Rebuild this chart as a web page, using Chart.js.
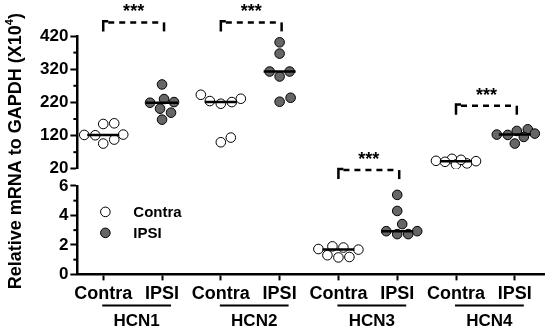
<!DOCTYPE html>
<html><head><meta charset="utf-8">
<script src="https://cdn.jsdelivr.net/npm/chart.js@4"></script>
<style>html,body{margin:0;padding:0;background:#fff}#wrap{width:550px;height:331px;position:relative}</style>
</head><body><div id="wrap"><canvas id="c" width="550" height="331"></canvas></div>
<script>
const groups = ['HCN1', 'HCN2', 'HCN3', 'HCN4'];
const conditions = ['Contra', 'IPSI'];
const hcn1Contra = [108, 122, 121, 123, 157, 155, 96];
const hcn1Ipsi   = [219, 274, 230, 201, 221, 189, 168];
const hcn2Contra = [224, 243, 216, 231, 221, 100, 114];
const hcn2Ipsi   = [401, 367, 313, 298, 313, 222, 234];
const hcn3Contra = [1.82, 1.72, 1.30, 1.68, 1.90, 1.15, 1.18];
const hcn3Ipsi   = [5.39, 4.30, 3.41, 2.73, 2.93, 2.73, 2.93];
const hcn4Contra = [44, 50, 36, 43, 33, 41, 47];
const hcn4Ipsi   = [122, 139, 123, 116, 126, 134, 96];
const upperTicks = [20, 120, 220, 320, 420];
const lowerTicks = [0, 2, 4, 6];
const lowerGroups = ['HCN3'];
const significance = ['***', '***', '***', '***'];
const bracketLevels = [461, 461, 7.07, 210];
const yTitle = 'Relative mRNA to GAPDH (X10';
const yTitleSup = '4';

const series = [[hcn1Contra, hcn1Ipsi], [hcn2Contra, hcn2Ipsi], [hcn3Contra, hcn3Ipsi], [hcn4Contra, hcn4Ipsi]];
const FONT = '"Liberation Sans", Arial, sans-serif';
const axisFor = g => lowerGroups.includes(g) ? 'yBot' : 'yTop';

const datasets = [];
groups.forEach((g, gi) => conditions.forEach((c, ci) => {
  datasets.push({
    label: g + ' ' + c, group: gi, cond: ci, yAxisID: axisFor(g),
    data: series[gi][ci].map(v => ({x: gi * 2 + ci, y: v})),
    backgroundColor: ci ? '#666666' : '#ffffff', borderColor: '#000', borderWidth: 1,
    pointRadius: 4.8, pointHoverRadius: 4.8, showLine: false
  });
}));

const median = arr => { const s = [...arr].sort((a, b) => a - b); const n = s.length; return n % 2 ? s[(n - 1) / 2] : (s[n / 2 - 1] + s[n / 2]) / 2; };

const yAxisCommon = {
  type: 'linear', position: 'left', stack: 'y',
  ticks: {font: {family: FONT, weight: 'bold', size: 17}, color: '#000', padding: 2, autoSkip: false},
  grid: {display: true, drawOnChartArea: false, drawTicks: true, tickLength: 7, tickWidth: 2, tickColor: '#000'},
  border: {display: true, color: '#000', width: 2.5}
};

const extras = {
  id: 'extras',
  afterDatasetsDraw(chart) {
    const {ctx} = chart; const x = chart.scales.x;
    ctx.save();
    ctx.strokeStyle = '#000'; ctx.lineWidth = 2.5;
    chart.data.datasets.forEach(ds => {
      const ys = chart.scales[ds.yAxisID];
      const m = median(series[ds.group][ds.cond]);
      const cx = x.getPixelForValue(ds.group * 2 + ds.cond);
      const py = ys.getPixelForValue(m);
      ctx.beginPath(); ctx.moveTo(cx - 16, py); ctx.lineTo(cx + 16, py); ctx.stroke();
    });
    ctx.restore();
  },
  afterDraw(chart) {
    const {ctx, chartArea} = chart; const x = chart.scales.x;
    const yTop = chart.scales.yTop, yBot = chart.scales.yBot;
    ctx.save();
    ctx.strokeStyle = '#000'; ctx.fillStyle = '#000';
    // minor ticks
    ctx.lineWidth = 2;
    const minor = (scale, ticks) => {
      for (let i = 0; i < ticks.length - 1; i++) {
        const v = (ticks[i] + ticks[i + 1]) / 2; const py = scale.getPixelForValue(v);
        ctx.beginPath(); ctx.moveTo(scale.right - 4, py); ctx.lineTo(scale.right, py); ctx.stroke();
      }
    };
    minor(yTop, upperTicks); minor(yBot, lowerTicks);
    // brackets
    groups.forEach((g, gi) => {
      const ys = chart.scales[axisFor(g)];
      const py = ys.getPixelForValue(bracketLevels[gi]);
      const x1 = x.getPixelForValue(gi * 2), x2 = x.getPixelForValue(gi * 2 + 1) + 2;
      ctx.lineWidth = 2.5; ctx.setLineDash([6, 5]);
      ctx.beginPath(); ctx.moveTo(x1 + 5, py); ctx.lineTo(x2 - 3, py); ctx.stroke();
      ctx.setLineDash([]);
      ctx.beginPath(); ctx.moveTo(x1, py + 9); ctx.lineTo(x1, py - 1.2); ctx.lineTo(x1 + 5, py - 1.2); ctx.stroke();
      ctx.beginPath(); ctx.moveTo(x2, py); ctx.lineTo(x2, py + 9); ctx.stroke();
      ctx.font = 'bold 18px ' + FONT; ctx.textAlign = 'center'; ctx.textBaseline = 'middle';
      ctx.fillText(significance[gi], (x1 + x2) / 2, py - 10);
    });
    // group underline + labels
    groups.forEach((g, gi) => {
      const x1 = x.getPixelForValue(gi * 2) - 1, x2 = x.getPixelForValue(gi * 2 + 1) + 9;
      const uy = x.top + 31;
      ctx.lineWidth = 2; ctx.beginPath(); ctx.moveTo(x1, uy); ctx.lineTo(x2, uy); ctx.stroke();
      ctx.font = 'bold 17px ' + FONT; ctx.textAlign = 'center'; ctx.textBaseline = 'middle';
      ctx.fillText(g, (x1 + x2) / 2, uy + 16);
    });
    // legend
    conditions.forEach((c, ci) => {
      const lx = chartArea.left + 28, ly = yBot.top + 26 + ci * 21;
      ctx.beginPath(); ctx.arc(lx, ly, 4.8, 0, Math.PI * 2);
      ctx.fillStyle = ci ? '#666666' : '#ffffff'; ctx.fill();
      ctx.lineWidth = 1; ctx.strokeStyle = '#000'; ctx.stroke();
      ctx.fillStyle = '#000'; ctx.font = 'bold 15px ' + FONT; ctx.textAlign = 'left'; ctx.textBaseline = 'middle';
      ctx.fillText(c, lx + 28, ly + 1);
    });
    // y title
    const cy = (yTop.top + yBot.bottom) / 2 - 4;
    ctx.translate(16, cy); ctx.rotate(-Math.PI / 2);
    ctx.font = 'bold 18px ' + FONT; ctx.textBaseline = 'middle';
    const w1 = ctx.measureText(yTitle).width;
    ctx.font = 'bold 11px ' + FONT; const w2 = ctx.measureText(yTitleSup).width;
    ctx.font = 'bold 18px ' + FONT; const w3 = ctx.measureText(')').width;
    let sx = -(w1 + w2 + w3) / 2;
    ctx.textAlign = 'left';
    ctx.fillText(yTitle, sx, 0); sx += w1;
    ctx.font = 'bold 11px ' + FONT; ctx.fillText(yTitleSup, sx, -6); sx += w2;
    ctx.font = 'bold 18px ' + FONT; ctx.fillText(')', sx, 0);
    ctx.restore();
  }
};

const chart = new Chart(document.getElementById('c'), {
  type: 'scatter',
  data: {datasets},
  options: {
    responsive: false, animation: false, events: [],
    layout: {padding: {top: 36, left: 38, right: 5, bottom: 23}},
    plugins: {legend: {display: false}, tooltip: {enabled: false}},
    scales: {
      x: {
        type: 'linear', min: -0.44, max: 7.5,
        afterBuildTicks: s => { s.ticks = groups.flatMap((g, gi) => conditions.map((c, ci) => ({value: gi * 2 + ci}))); },
        ticks: {callback: v => conditions[Math.round(v) % 2], font: {family: FONT, weight: 'bold', size: 18}, color: '#000', padding: 3, autoSkip: false, maxRotation: 0},
        grid: {display: true, drawOnChartArea: false, drawTicks: true, tickLength: 6, tickWidth: 2, tickColor: '#000'},
        border: {display: true, color: '#000', width: 2.5}
      },
      yTop: Object.assign({}, yAxisCommon, {min: 20, max: 420, stackWeight: 132, weight: 3,
        afterBuildTicks: s => { s.ticks = upperTicks.map(v => ({value: v})); }}),
      ySpacer: {type: 'linear', position: 'left', stack: 'y', stackWeight: 17, weight: 2,
        ticks: {display: false}, grid: {display: false}, border: {display: false}},
      yBot: Object.assign({}, yAxisCommon, {min: 0, max: 6, stackWeight: 88, weight: 1,
        afterBuildTicks: s => { s.ticks = lowerTicks.map(v => ({value: v})); }})
    }
  },
  plugins: [extras]
});

// beeswarm spreading of points that would overlap (computed from the scales)
(function spread() {
  const x = chart.scales.x;
  const pxPerUnit = x.getPixelForValue(1) - x.getPixelForValue(0);
  const D = 11, W = 20;
  chart.data.datasets.forEach(ds => {
    const ys = chart.scales[ds.yAxisID];
    const vals = series[ds.group][ds.cond];
    const order = vals.map((v, i) => i).sort((a, b) => vals[a] - vals[b]);
    const placed = [];
    order.forEach(i => {
      const py = ys.getPixelForValue(vals[i]);
      let chosen = null, best = 0, bestScore = -1;
      for (let k = 0; k <= 2 * W; k++) {
        const dx = k === 0 ? 0 : (k % 2 ? 1 : -1) * Math.ceil(k / 2);
        let md = Infinity;
        placed.forEach(p => { md = Math.min(md, Math.hypot(dx - p.dx, py - p.py)); });
        if (md >= D) { chosen = dx; break; }
        if (md > bestScore) { bestScore = md; best = dx; }
      }
      if (chosen === null) chosen = best;
      placed.push({dx: chosen, py});
      ds.data[i] = {x: ds.group * 2 + ds.cond + chosen / pxPerUnit, y: vals[i]};
    });
  });
  chart.update('none');
})();
</script></body></html>
